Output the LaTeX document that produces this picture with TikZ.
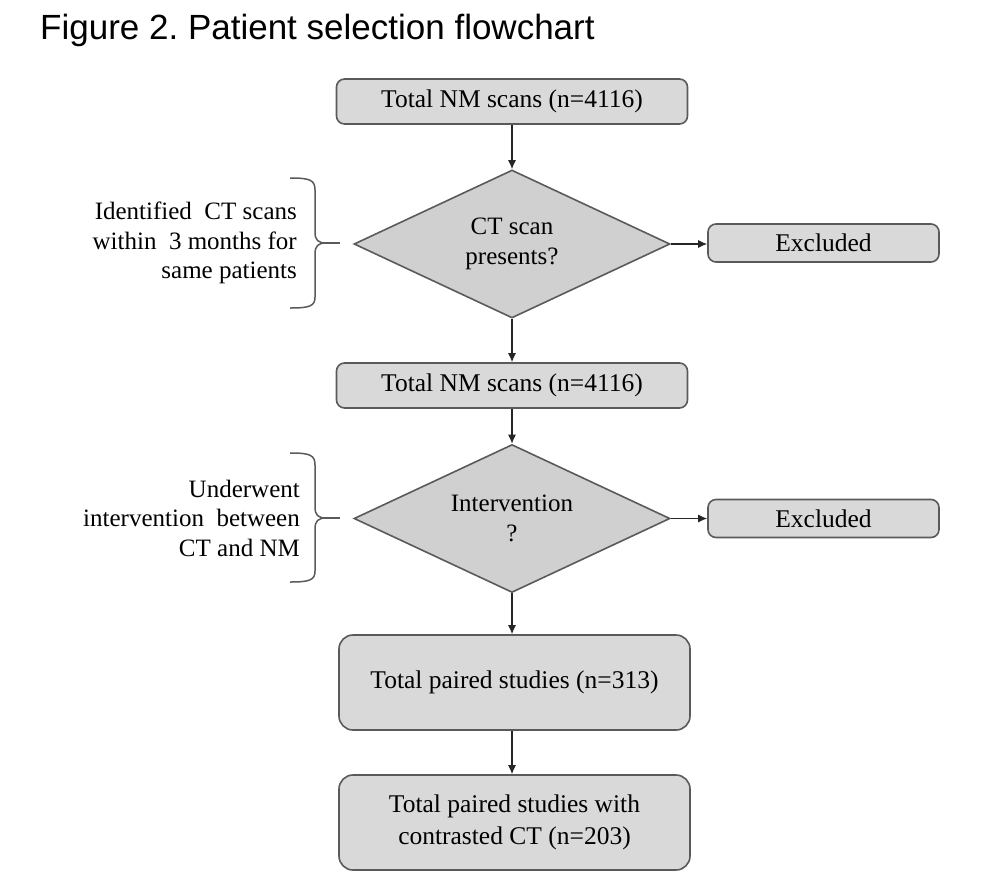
\documentclass[tikz,border=0pt]{standalone}
\usepackage{fontspec}
\setmainfont{Liberation Serif}
\newfontfamily\titlefont{Liberation Sans}
\usetikzlibrary{shapes.geometric,arrows.meta}
\definecolor{boxfill}{HTML}{D9D9D9}
\definecolor{dmfill}{HTML}{D0D0D0}
\definecolor{edge}{HTML}{5A5A5A}
\tikzset{
  rbox/.style={draw=edge, line width=1.6pt, fill=boxfill, rounded corners=8pt, align=center, inner sep=0pt, font=\fontsize{25.5}{32}\selectfont},
  dmd/.style={diamond, draw=edge, line width=1.6pt, fill=dmfill, align=center, inner sep=0pt, minimum width=316pt, minimum height=148pt, aspect=2.135, font=\fontsize{25}{30}\selectfont},
  note/.style={align=right, anchor=east, inner sep=0pt, font=\fontsize{25}{29.5}\selectfont},
  arr/.style={draw=black!85, line width=1.2pt, -{Latex[length=9pt,width=8pt]}},
  brace/.style={draw=edge, line width=1.5pt}
}
\frenchspacing
\begin{document}
\begin{tikzpicture}[x=1pt,y=-1pt]
\useasboundingbox (0,0) rectangle (985,884);
\fill[white] (0,0) rectangle (985,884);
\node[anchor=base west, inner sep=0pt, font=\titlefont\fontsize{35}{40}\selectfont] (title) at (40,39) {Figure 2. Patient selection flowchart};

\node[rbox, minimum width=351pt, minimum height=45pt] (b1) at (512,101.5) {Total NM scans (n=4116)};
\node[dmd] (d1) at (512,244) {CT scan\\presents?};
\node[rbox, minimum width=231pt, minimum height=38pt] (e1) at (823.5,243) {Excluded};
\node[rbox, minimum width=351pt, minimum height=45pt] (b2) at (512,385.5) {Total NM scans (n=4116)};
\node[dmd] (d2) at (512,518.5) {Intervention\\?};
\node[rbox, minimum width=231pt, minimum height=38pt] (e2) at (823.5,518.5) {Excluded};
\node[rbox, minimum width=351pt, minimum height=95pt, rounded corners=14pt] (b3) at (514.5,682.5) {Total paired studies (n=313)};
\node[rbox, minimum width=351pt, minimum height=95pt, rounded corners=14pt] (b4) at (514.5,822.5) {Total paired studies with\\contrasted CT (n=203)};

\node[note] (n1) at (297,243) {Identified\ \ CT scans\\within\ \ 3 months for\\same patients};
\node[note] (n2) at (300,518) {Underwent\\intervention\ \ between\\CT and NM};

\draw[arr] (b1.south) -- (d1.north);
\draw[arr] (d1.south) -- (b2.north);
\draw[arr] (b2.south) -- (d2.north);
\draw[arr] (d2.south) -- (d2.south |- b3.north);
\draw[arr] (d2.south |- b3.south) -- (d2.south |- b4.north);
\draw[arr] (d1.east) -- (d1.east -| e1.west);
\draw[arr] (d2.east) -- (d2.east -| e2.west);

\coordinate (t1) at (326,243);
\coordinate (t2) at (326,518);
\draw[brace] (290,178) .. controls (310,178) and (315,180) .. (315,190) -- (315,232) .. controls (315,240) and (318,243) .. (t1) .. controls (318,243) and (315,246) .. (315,254) -- (315,297) .. controls (315,306) and (310,308) .. (290,308);
\draw[brace] (t1) -- (340,243);
\draw[brace] (290,453) .. controls (310,453) and (315,455) .. (315,465) -- (315,507) .. controls (315,515) and (318,518) .. (t2) .. controls (318,518) and (315,521) .. (315,529) -- (315,571) .. controls (315,580) and (310,582) .. (290,582);
\draw[brace] (t2) -- (340,518);
\end{tikzpicture}
\end{document}
